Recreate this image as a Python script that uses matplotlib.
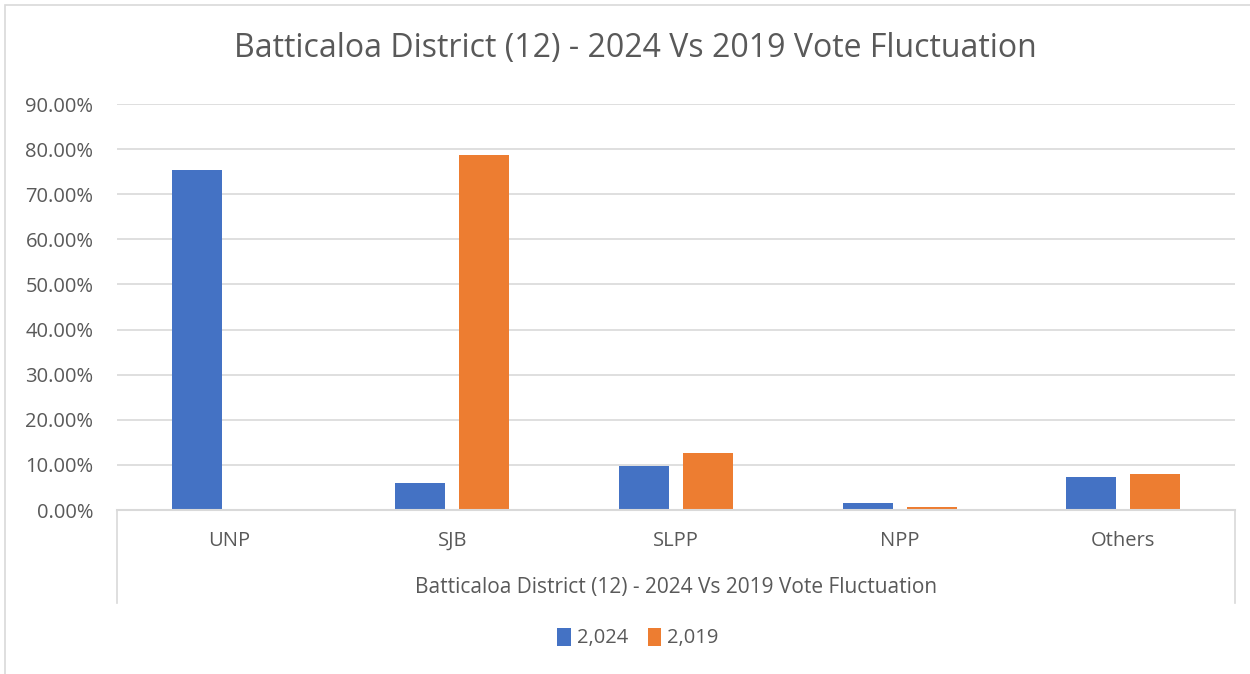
import matplotlib
matplotlib.use("Agg")
import matplotlib.pyplot as plt
import numpy as np
from matplotlib.patches import Rectangle

categories = ["UNP", "SJB", "SLPP", "NPP", "Others"]
series_2024 = [75.35, 5.9, 9.7, 1.5, 7.35]
series_2019 = [0.0, 78.7, 12.7, 0.7, 7.9]
series_names = ["2,024", "2,019"]
title = "Batticaloa District (12) - 2024 Vs 2019 Vote Fluctuation"
yticks = [0, 10, 20, 30, 40, 50, 60, 70, 80, 90]

plt.rcParams['font.family'] = ['Open Sans', 'DejaVu Sans']
TXT = "#595959"
GRID = "#d9d9d9"
BLUE = "#4472c4"
ORANGE = "#ed7d31"

fig = plt.figure(figsize=(12.5, 6.74), dpi=100)
ax = fig.add_axes([117/1250, 1-510/674, (1235-117)/1250, (510-104)/674])

x = np.arange(len(categories))
w = 0.2236
off = 0.143
ax.bar(x - off, series_2024, w, color=BLUE, label=series_names[0], zorder=3)
ax.bar(x + off, series_2019, w, color=ORANGE, label=series_names[1], zorder=3)

ax.set_xlim(-0.5, len(categories) - 0.5)
ax.set_ylim(0, 90)
ax.set_yticks(yticks)
ax.set_yticklabels([f"{v:.2f}%" for v in yticks], color=TXT, fontsize=14.5)
ax.set_xticks(x)
ax.set_xticklabels(categories, color=TXT, fontsize=14.5)
ax.tick_params(axis='both', length=0)
ax.tick_params(axis='x', pad=15)
ax.tick_params(axis='y', pad=17)
ax.grid(axis='y', color=GRID, linewidth=1.2, zorder=0)
for s in ax.spines.values():
    s.set_visible(False)

# category axis box
yb = -(603-510)/(510-104)
ax.plot([0, 1], [0, 0], transform=ax.transAxes, color=GRID, lw=1.5, clip_on=False, zorder=4)
ax.plot([0, 0], [0, yb], transform=ax.transAxes, color=GRID, lw=1.2, clip_on=False)
ax.plot([1, 1], [0, yb], transform=ax.transAxes, color=GRID, lw=1.2, clip_on=False)

fig.text(676/1250, 1-587/674, title, ha='center', va='center', color=TXT, fontsize=15)
fig.text(635/1250, 1-49/674, title, ha='center', va='center', color=TXT, fontsize=23)

leg = fig.legend(loc='center', bbox_to_anchor=(638/1250, 1-638/674), ncol=2, frameon=False,
                 fontsize=14.5, handlelength=0.65, handleheight=1.0, handletextpad=0.3, columnspacing=1.0)
for t in leg.get_texts():
    t.set_color(TXT)

fig.patches.append(Rectangle((5/1250, -0.01), 1.0, 1-5/674+0.01, transform=fig.transFigure,
                             fill=False, edgecolor=GRID, lw=1.2))

fig.savefig("out.png", dpi=100)
